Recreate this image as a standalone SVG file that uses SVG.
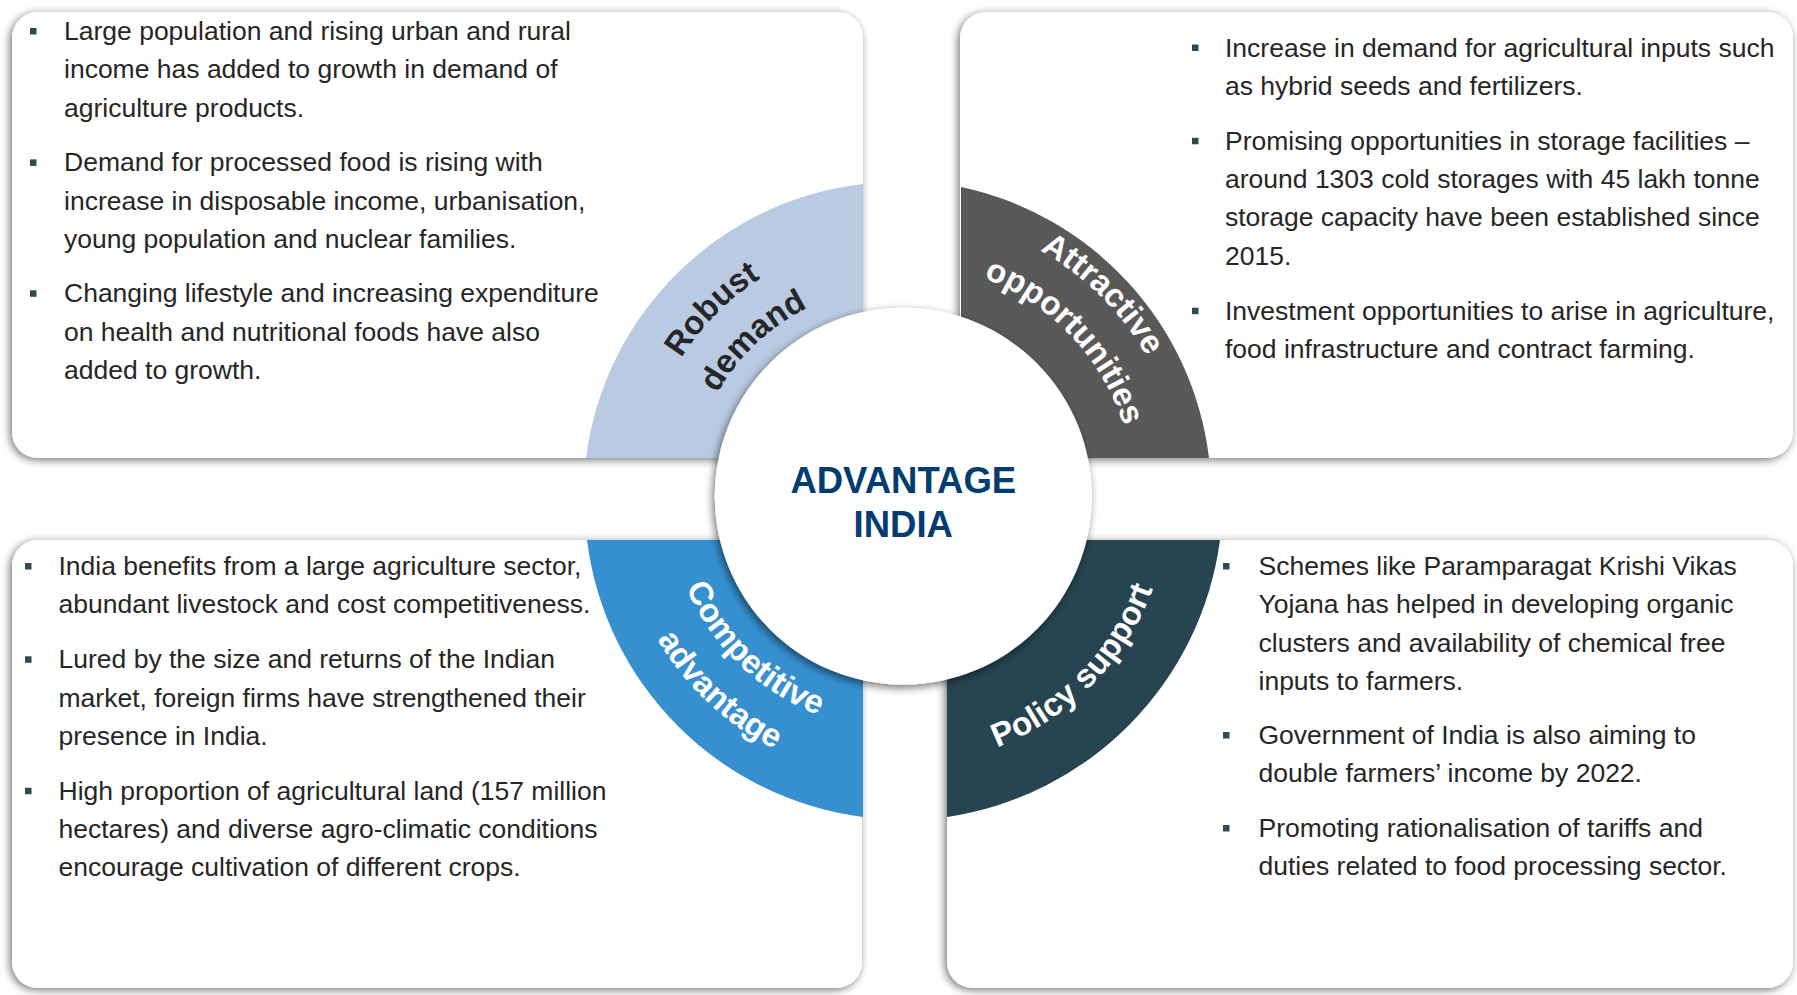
<svg xmlns="http://www.w3.org/2000/svg" width="1797" height="995" viewBox="0 0 1797 995">
<defs>
<filter id="sh" x="-10%" y="-10%" width="120%" height="120%">
<feDropShadow dx="-2" dy="2" stdDeviation="4" flood-color="#000" flood-opacity="0.55"/>
</filter>
<filter id="shc" x="-20%" y="-20%" width="140%" height="140%">
<feDropShadow dx="-2" dy="3" stdDeviation="4" flood-color="#000" flood-opacity="0.55"/>
</filter>
<path id="pRobust" d="M 641 497.9 A 260 260 0 0 1 900.1 237"/>
<path id="pDemand" d="M 690.1 491.1 A 211 211 0 0 1 906.9 286.1"/>
<path id="pAttr" d="M 900 214 A 283 283 0 0 1 1184 496"/>
<path id="pOpp" d="M 907.1 263.1 A 234 234 0 0 1 1134.9 503.1"/>
<path id="pComp" d="M 668 501.1 A 233 233 0 0 0 905.1 730"/>
<path id="pAdv" d="M 619.1 505.9 A 282 282 0 0 0 909.9 778.9"/>
<path id="pPol" d="M 903.3 765 A 268 268 0 0 0 1169 494.7"/>
</defs>
<style>
.box{fill:#fff;filter:url(#sh)}
.t{font-family:"Liberation Sans",Arial,sans-serif;font-size:26.5px;fill:#262626}
.b{fill:#2d4b55}
.lbl{font-family:"Liberation Sans",Arial,sans-serif;font-size:33px;font-weight:bold}
.ctr{font-family:"Liberation Sans",Arial,sans-serif;font-size:36.5px;font-weight:bold;fill:#023c71}
</style>
<rect width="1797" height="995" fill="#fff"/>

<g id="box-robust">
<rect class="box" x="12" y="12" width="851" height="446" rx="26"/>
<rect class="b" x="30" y="28" width="6.5" height="6.5"/>
<rect class="b" x="30" y="159.4" width="6.5" height="6.5"/>
<rect class="b" x="30" y="290.3" width="6.5" height="6.5"/>
<text class="t"><tspan x="64" y="40">Large population and rising urban and rural</tspan><tspan x="64" y="78.3">income has added to growth in demand of</tspan><tspan x="64" y="116.6">agriculture products.</tspan><tspan x="64" y="171.4">Demand for processed food is rising with</tspan><tspan x="64" y="209.7">increase in disposable income, urbanisation,</tspan><tspan x="64" y="248">young population and nuclear families.</tspan><tspan x="64" y="302.3">Changing lifestyle and increasing expenditure</tspan><tspan x="64" y="340.6">on health and nutritional foods have also</tspan><tspan x="64" y="378.9">added to growth.</tspan></text>
</g>

<g id="box-attractive">
<rect class="box" x="960" y="12" width="833" height="446" rx="26"/>
<rect class="b" x="1192" y="44.5" width="6.5" height="6.5"/>
<rect class="b" x="1192" y="137.8" width="6.5" height="6.5"/>
<rect class="b" x="1192" y="307.7" width="6.5" height="6.5"/>
<text class="t"><tspan x="1225" y="56.5">Increase in demand for agricultural inputs such</tspan><tspan x="1225" y="94.8">as hybrid seeds and fertilizers.</tspan><tspan x="1225" y="149.8">Promising opportunities in storage facilities –</tspan><tspan x="1225" y="188.1">around 1303 cold storages with 45 lakh tonne</tspan><tspan x="1225" y="226.4">storage capacity have been established since</tspan><tspan x="1225" y="264.7">2015.</tspan><tspan x="1225" y="319.7">Investment opportunities to arise in agriculture,</tspan><tspan x="1225" y="358">food infrastructure and contract farming.</tspan></text>
</g>

<g id="box-competitive">
<rect class="box" x="12" y="540" width="850" height="448" rx="26"/>
<rect class="b" x="25" y="563" width="6.5" height="6.5"/>
<rect class="b" x="25" y="656.3" width="6.5" height="6.5"/>
<rect class="b" x="25" y="787.7" width="6.5" height="6.5"/>
<text class="t"><tspan x="58.5" y="575">India benefits from a large agriculture sector,</tspan><tspan x="58.5" y="613.3">abundant livestock and cost competitiveness.</tspan><tspan x="58.5" y="668.3">Lured by the size and returns of the Indian</tspan><tspan x="58.5" y="706.6">market, foreign firms have strengthened their</tspan><tspan x="58.5" y="744.9">presence in India.</tspan><tspan x="58.5" y="799.7">High proportion of agricultural land (157 million</tspan><tspan x="58.5" y="838">hectares) and diverse agro-climatic conditions</tspan><tspan x="58.5" y="876.3">encourage cultivation of different crops.</tspan></text>
</g>

<g id="box-policy">
<rect class="box" x="947" y="540" width="846" height="448" rx="26"/>
<rect class="b" x="1223" y="563" width="6.5" height="6.5"/>
<rect class="b" x="1223" y="732" width="6.5" height="6.5"/>
<rect class="b" x="1223" y="825" width="6.5" height="6.5"/>
<text class="t"><tspan x="1258.5" y="575">Schemes like Paramparagat Krishi Vikas</tspan><tspan x="1258.5" y="613.3">Yojana has helped in developing organic</tspan><tspan x="1258.5" y="651.6">clusters and availability of chemical free</tspan><tspan x="1258.5" y="689.9">inputs to farmers.</tspan><tspan x="1258.5" y="744">Government of India is also aiming to</tspan><tspan x="1258.5" y="782.3">double farmers’ income by 2022.</tspan><tspan x="1258.5" y="837">Promoting rationalisation of tariffs and</tspan><tspan x="1258.5" y="875.3">duties related to food processing sector.</tspan></text>
</g>

<g id="connectors"></g>

<g id="wedge-robust">
<path d="M 863 458 L 863 184 A 316 316 0 0 0 586 458 Z" fill="#b9cbe3"/>
</g>
<g id="wedge-attractive">
<path d="M 961 458 L 961 187 A 316 316 0 0 1 1209 458 Z" fill="#595959"/>
</g>
<g id="wedge-competitive">
<path d="M 863 540 L 587 540 A 319 319 0 0 0 863 817 Z" fill="#3690d0"/>
</g>
<g id="wedge-policy">
<path d="M 947 540 L 1220 540 A 323 323 0 0 1 947 817 Z" fill="#264550"/>
</g>

<g id="center">
<circle cx="903.3" cy="496.2" r="188.5" fill="#fff" filter="url(#shc)"/>
<text class="ctr" text-anchor="middle"><tspan x="903.3" y="492.7">ADVANTAGE</tspan><tspan x="903.3" y="537.3">INDIA</tspan></text>
</g>

<g id="labels">
<text class="lbl" fill="#262626"><textPath href="#pRobust" startOffset="50%" text-anchor="middle">Robust</textPath></text>
<text class="lbl" fill="#262626"><textPath href="#pDemand" startOffset="50%" text-anchor="middle">demand</textPath></text>
<text class="lbl" fill="#fff"><textPath href="#pAttr" startOffset="50%" text-anchor="middle">Attractive</textPath></text>
<text class="lbl" fill="#fff"><textPath href="#pOpp" startOffset="50%" text-anchor="middle">opportunities</textPath></text>
<text class="lbl" fill="#fff"><textPath href="#pComp" startOffset="50%" text-anchor="middle">Competitive</textPath></text>
<text class="lbl" fill="#fff"><textPath href="#pAdv" startOffset="50%" text-anchor="middle">advantage</textPath></text>
<text class="lbl" fill="#fff"><textPath href="#pPol" startOffset="50%" text-anchor="middle">Policy support</textPath></text>
</g>
</svg>
